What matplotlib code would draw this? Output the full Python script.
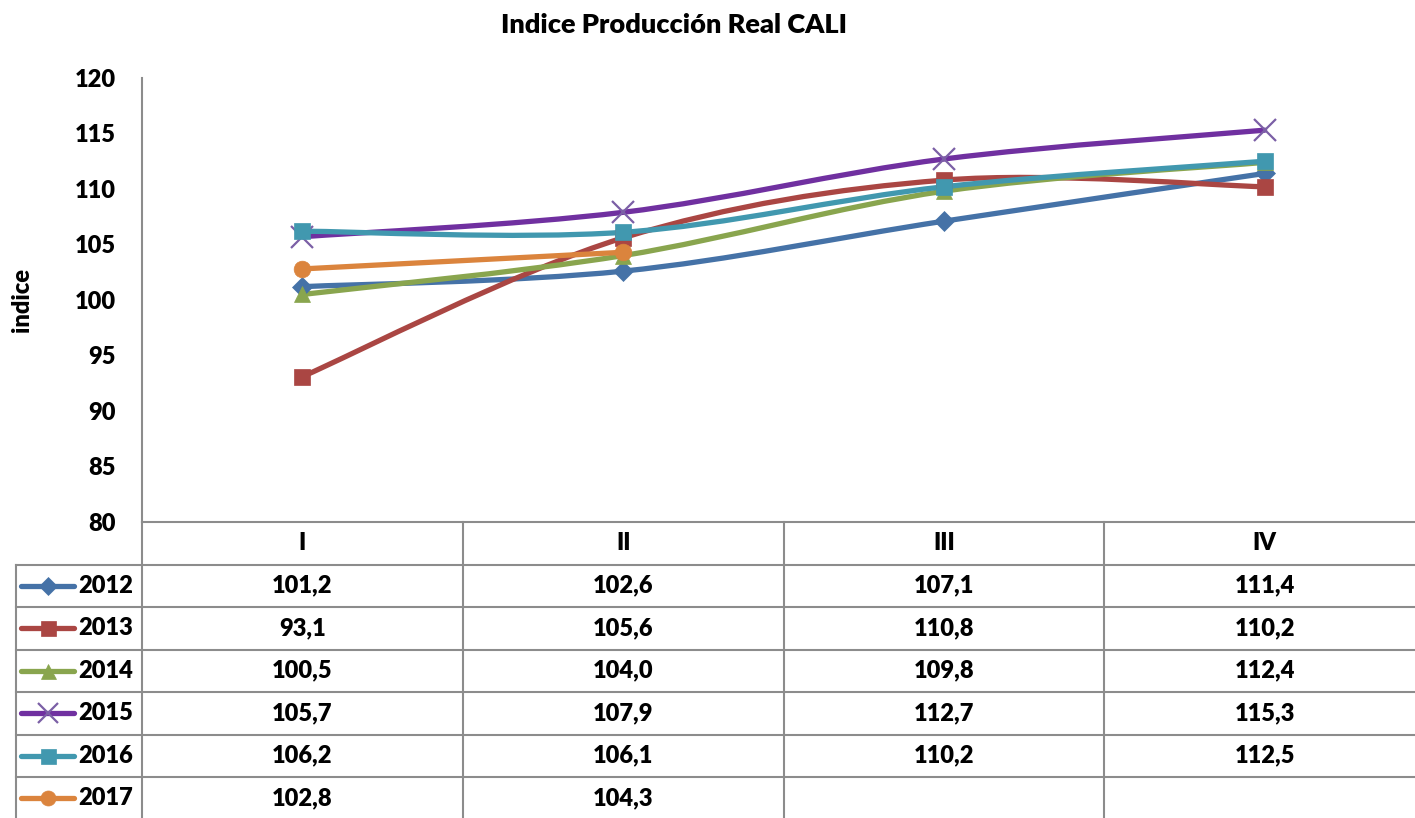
import numpy as np
import matplotlib
matplotlib.use("Agg")
import matplotlib.pyplot as plt
from matplotlib.path import Path
from matplotlib.patches import PathPatch
from matplotlib.lines import Line2D
import matplotlib.transforms as mtransforms

# =========================
# DATA
# =========================
quarters = ["I", "II", "III", "IV"]
years = ["2012", "2013", "2014", "2015", "2016", "2017"]
v2012 = [101.2, 102.6, 107.1, 111.4]
v2013 = [93.1, 105.6, 110.8, 110.2]
v2014 = [100.5, 104.0, 109.8, 112.4]
v2015 = [105.7, 107.9, 112.7, 115.3]
v2016 = [106.2, 106.1, 110.2, 112.5]
v2017 = [102.8, 104.3]
series = [v2012, v2013, v2014, v2015, v2016, v2017]

# styles
line_colors = ["#4572A7", "#AA4643", "#89A54E", "#7030A0", "#4198AF", "#DB843D"]
marker_colors = ["#4572A7", "#AA4643", "#89A54E", "#7B5FA6", "#4198AF", "#DB843D"]
markers = ["D", "s", "^", "x", "s", "o"]
msizes = [10, 12, 12, 16, 12, 12]

plt.rcParams['font.family'] = ['Lato', 'DejaVu Sans']
plt.rcParams['font.weight'] = 'heavy'

W, H = 1415, 818
fig = plt.figure(figsize=(W / 100, H / 100), dpi=100)

# overlay in pixel coordinates for the table grid
tab = fig.add_axes([0, 0, 1, 1])
tab.set_xlim(0, W)
tab.set_ylim(H, 0)
tab.axis("off")

# plot area
left, right, top, bottom = 142, 1425, 78, 522
ax = fig.add_axes([left / W, (H - bottom) / H, (right - left) / W, (bottom - top) / H])
ax.set_xlim(-0.5, 3.5)
ax.set_ylim(80, 120)
ax.set_yticks(np.arange(80, 121, 5))
ax.set_xticks([])
ax.tick_params(axis="y", length=0, pad=19, labelsize=17)
for s in ["top", "right"]:
    ax.spines[s].set_visible(False)
for s in ["left", "bottom"]:
    ax.spines[s].set_color("#8c8c8c")
    ax.spines[s].set_linewidth(1.5)
ax.patch.set_alpha(0)


def smooth_path(xs, ys):
    # Excel-like smoothed line: Catmull-Rom as cubic Bezier
    pts = np.column_stack([xs, ys]).astype(float)
    n = len(pts)
    verts = [pts[0]]
    codes = [Path.MOVETO]
    for i in range(n - 1):
        p0 = pts[i - 1] if i > 0 else pts[i]
        p1 = pts[i]
        p2 = pts[i + 1]
        p3 = pts[i + 2] if i + 2 < n else pts[i + 1]
        c1 = p1 + (p2 - p0) / 6.0
        c2 = p2 - (p3 - p1) / 6.0
        verts += [c1, c2, p2]
        codes += [Path.CURVE4] * 3
    return Path(verts, codes)


for vals, lc, mc, mk, ms in zip(series, line_colors, marker_colors, markers, msizes):
    xs = np.arange(len(vals))
    patch = PathPatch(smooth_path(xs, vals), facecolor="none", edgecolor=lc,
                      lw=3.8, capstyle="round", joinstyle="round",
                      transform=ax.transData, clip_on=False)
    ax.add_patch(patch)
    ax.plot(xs, vals, linestyle="none", marker=mk, markersize=ms,
            color=mc, markeredgecolor=mc, markeredgewidth=1.6 if mk == "x" else 0.5,
            clip_on=False, zorder=patch.get_zorder() + 0.1)

# =========================
# DATA TABLE
# =========================
grid = "#8c8c8c"
row_top = bottom
row_h = 42.5
n_rows = len(years)
bounds = [-0.5, 0.5, 1.5, 2.5]
bt = mtransforms.blended_transform_factory(ax.transData, tab.transData)

# vertical lines
for b in bounds:
    tab.plot([b, b], [row_top, H], color=grid, lw=1.5, transform=bt)
tab.plot([16, 16], [row_top + row_h, H], color=grid, lw=1.5)
# horizontal lines
for r in range(1, n_rows + 1):
    y = row_top + r * row_h
    tab.plot([16, W], [y, y], color=grid, lw=1.5)

# header
for i, q in enumerate(quarters):
    tab.text(i, row_top + row_h / 2, q, transform=bt, ha="center", va="center", fontsize=17)

# rows
for r, (yr, vals) in enumerate(zip(years, series)):
    yc = row_top + (r + 1.5) * row_h
    tab.add_line(Line2D([21, 74], [yc, yc], color=line_colors[r], lw=3.8,
                        solid_capstyle="round"))
    tab.plot([48], [yc], marker=markers[r], markersize=msizes[r] * 0.9,
             color=marker_colors[r], markeredgecolor=marker_colors[r],
             markeredgewidth=1.6 if markers[r] == "x" else 0.5, linestyle="none")
    tab.text(78, yc, yr, ha="left", va="center", fontsize=17)
    for i, v in enumerate(vals):
        tab.text(i, yc, f"{v:.1f}".replace(".", ","), transform=bt,
                 ha="center", va="center", fontsize=17)

fig.text(674 / W, 1 - 25 / H, "Indice Producción Real CALI", ha="center", va="center",
         fontsize=19.5)
fig.text(22 / W, 1 - 300 / H, "indice", rotation=90, ha="center", va="center",
         fontsize=17)

fig.savefig("out.png", dpi=100)
